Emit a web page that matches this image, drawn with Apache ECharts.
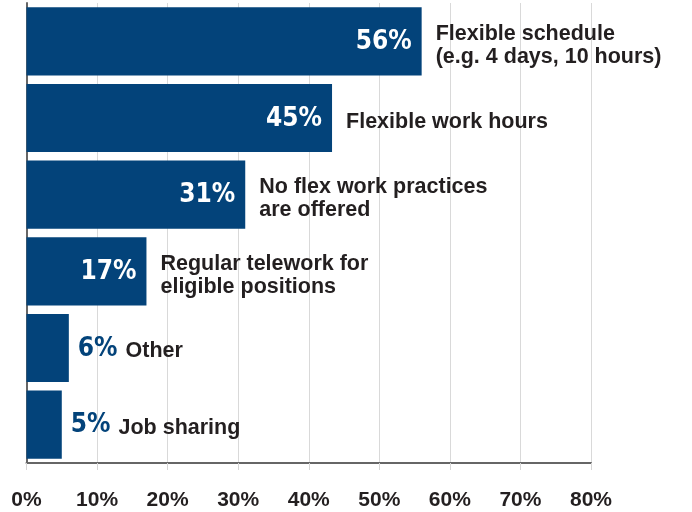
<!DOCTYPE html>
<html>
<head>
<meta charset="utf-8">
<script src="https://cdn.jsdelivr.net/npm/echarts@6/dist/echarts.min.js"></script>
<style>html,body{margin:0;padding:0;background:#fff;}#c{width:692px;height:512px;}</style>
</head>
<body>
<div id="c"></div>
<script>
const categories = ['Flexible schedule\n(e.g. 4 days, 10 hours)', 'Flexible work hours', 'No flex work practices\nare offered', 'Regular telework for\neligible positions', 'Other', 'Job sharing'];
// bar lengths as drawn in the reference
const values = [56, 43.3, 31, 17, 6, 5];
// printed value labels
const valueLabels = ['56%', '45%', '31%', '17%', '6%', '5%'];
const axisMin = 0, axisMax = 80, axisStep = 10;

const BLUE = '#03437a';
const DARK = '#231f20';
const NUM_FONT = '"Liberation Sans Narrow", "DejaVu Sans Condensed", sans-serif';
const TXT_FONT = '"Liberation Sans", Arial, sans-serif';

const barData = values.map((v, i) => {
  if (v >= 10) {
    return { value: v, label: { show: true, position: 'insideRight', distance: 10, color: '#fff',
      fontFamily: NUM_FONT, fontWeight: 'bold', fontSize: 26, offset: [0, 1],
      formatter: p => valueLabels[p.dataIndex] } };
  }
  return { value: v, label: { show: true, position: 'right', distance: 9, offset: [0, 1],
    formatter: p => '{v|' + valueLabels[p.dataIndex] + '}{t|' + p.name + '}',
    rich: {
      v: { color: BLUE, fontFamily: NUM_FONT, fontWeight: 'bold', fontSize: 26 },
      t: { color: DARK, fontFamily: TXT_FONT, fontWeight: 'bold', fontSize: 21.5, padding: [4, 0, 0, 8] }
    } } };
});
const nameData = values.map(v => ({ value: v, label: { show: v >= 10 } }));

const chart = echarts.init(document.getElementById('c'), null, { renderer: 'canvas' });
chart.setOption({
  animation: false,
  grid: { left: 26.5, right: 101, top: 3, bottom: 49, containLabel: false },
  xAxis: {
    type: 'value', min: axisMin, max: axisMax, interval: axisStep,
    axisLine: { show: true, onZero: false, lineStyle: { color: '#666', width: 2 } },
    axisTick: { show: true, length: 7, lineStyle: { color: '#d6d6d6', width: 1 } },
    splitLine: { show: true, lineStyle: { color: '#d9d9d9', width: 1 } },
    axisLabel: { formatter: '{value}%', color: DARK, fontFamily: TXT_FONT, fontWeight: 'bold', fontSize: 21, margin: 27 }
  },
  yAxis: {
    type: 'category', inverse: true, data: categories,
    axisLine: { show: true, lineStyle: { color: '#666', width: 2 } },
    axisTick: { show: false }, axisLabel: { show: false }, splitLine: { show: false }
  },
  series: [
    { type: 'bar', data: barData, barCategoryGap: '11%', itemStyle: { color: BLUE }, silent: true },
    { type: 'bar', data: nameData, barGap: '-100%', barCategoryGap: '11%', itemStyle: { color: 'rgba(0,0,0,0)' }, silent: true,
      label: { show: true, position: 'right', distance: 14, offset: [0, 4], formatter: '{b}', color: DARK,
        fontFamily: TXT_FONT, fontWeight: 'bold', fontSize: 21.5, lineHeight: 23, align: 'left' } }
  ]
});
</script>
</body>
</html>
